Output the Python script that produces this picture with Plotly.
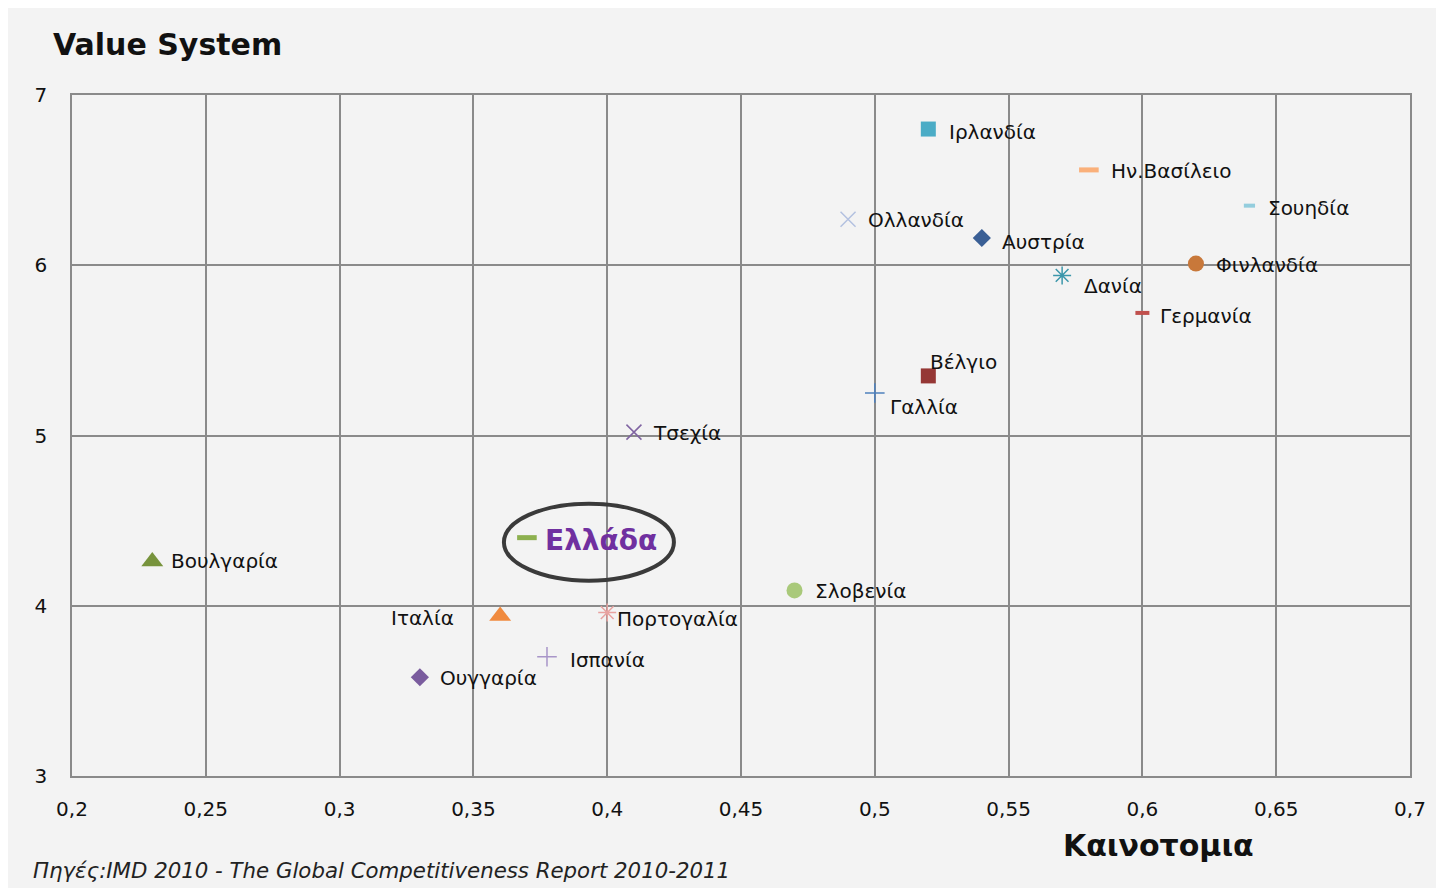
import plotly.graph_objects as go

# ---- data ----
countries = ["Ιρλανδία", "Ην.Βασίλειο", "Σουηδία", "Ολλανδία", "Αυστρία", "Φινλανδία",
             "Δανία", "Γερμανία", "Βέλγιο", "Γαλλία", "Τσεχία", "Ελλάδα", "Βουλγαρία",
             "Σλοβενία", "Ιταλία", "Πορτογαλία", "Ισπανία", "Ουγγαρία"]
innovation = [0.52, 0.58, 0.64, 0.49, 0.54, 0.62, 0.57, 0.60, 0.52, 0.50, 0.41, 0.37,
              0.23, 0.47, 0.36, 0.40, 0.3775, 0.33]
value_system = [6.80, 6.56, 6.35, 6.27, 6.16, 6.01, 5.94, 5.72, 5.35, 5.25, 5.02, 4.40,
                4.26, 4.09, 3.94, 3.96, 3.70, 3.58]
x_ticks = [0.2, 0.25, 0.3, 0.35, 0.4, 0.45, 0.5, 0.55, 0.6, 0.65, 0.7]
y_ticks = [3, 4, 5, 6, 7]

# ---- styles ----
symbols = ["square", "line-ew", "line-ew", "x-thin", "diamond", "circle",
           "asterisk", "line-ew", "square", "cross-thin", "x-thin", "line-ew", "triangle-up",
           "circle", "triangle-up", "asterisk", "cross-thin", "diamond"]
colors = ["#4bacc6", "#fab07a", "#93cddd", "#b3c1e0", "#3a5f95", "#c8783a",
          "#3c97ab", "#c0504d", "#953735", "#4f81bd", "#8064a2", "#8db04f", "#77933c",
          "#a9c97a", "#f08a3e", "#e8a2a0", "#a895c8", "#7a5c9e"]
sizes = [15, 14, 8, 15, 14, 16, 15, 10, 15, 14, 15, 14, 19, 16, 19, 15, 14, 14]
line_w = [0, 5, 4, 1.5, 0, 0, 1.5, 4, 0, 1.5, 1.5, 5, 0, 0, 0, 1.5, 1.5, 0]
# label offsets in pixels (dx, dy up positive) and anchors
lab_dx = [19, 20, 17, 18, 18, 18, 20, 16, 0, 13, 17, 16, 17, 18, -44, 8, 21, 18]
lab_dy = [-3, -1, -2, -1, -4, -1, -11, -3, 14, -14, -1, -3, 0, -1, -2, -6, -3, -1]
lab_anchor = ["left"] * 14 + ["right"] + ["left"] * 3

FONT = "DejaVu Sans"

fig = go.Figure()
for i, c in enumerate(countries):
    is_line = line_w[i] > 0
    fig.add_trace(go.Scatter(
        x=[innovation[i]], y=[value_system[i]], mode="markers", name=c,
        marker=dict(symbol=symbols[i], size=sizes[i], color=colors[i],
                    line=dict(color=colors[i], width=line_w[i] if is_line else 0)),
        showlegend=False, hoverinfo="text", text=c,
    ))
    greece = c == "Ελλάδα"
    fig.add_annotation(
        x=innovation[i], y=value_system[i], xref="x", yref="y",
        text=("<b>" + c + "</b>") if greece else c,
        showarrow=False, xanchor=lab_anchor[i], yanchor="middle",
        xshift=lab_dx[i], yshift=lab_dy[i],
        font=dict(family=FONT, size=28 if greece else 20,
                  color="#7030a0" if greece else "#111111"),
    )

gi = countries.index("Ελλάδα")
fig.add_shape(type="circle", xref="x", yref="y", xsizemode="pixel", ysizemode="pixel",
              xanchor=innovation[gi], yanchor=value_system[gi],
              x0=-23, x1=147, y0=-43, y1=34,
              line=dict(color="#3a3a3a", width=4), fillcolor="rgba(0,0,0,0)", layer="above")

grid = "#8a8a8a"
fig.update_xaxes(range=[0.2, 0.7], tickvals=x_ticks, showgrid=True, gridcolor=grid, gridwidth=1.5,
                 showline=True, linecolor=grid, linewidth=1.5, mirror=True, zeroline=False,
                 ticks="", ticklabelstandoff=14,
                 tickfont=dict(family=FONT, size=20, color="#111111"))
fig.update_yaxes(range=[3, 7], tickvals=y_ticks, showgrid=True, gridcolor=grid, gridwidth=1.5,
                 showline=True, linecolor=grid, linewidth=1.5, mirror=True, zeroline=False,
                 ticks="", ticklabelstandoff=19,
                 tickfont=dict(family=FONT, size=20, color="#111111"))

fig.add_annotation(text="<b>Value System</b>", xref="paper", yref="paper",
                   x=(50 - 71) / 1338, y=1 + (94 - 43) / 681, xanchor="left", yanchor="middle",
                   showarrow=False, font=dict(family=FONT, size=30, color="#111111"))
fig.add_annotation(text="<b>Καινοτομια</b>", xref="paper", yref="paper",
                   x=(1157 - 71) / 1338, y=-(845 - 775) / 681, xanchor="center", yanchor="middle",
                   showarrow=False, font=dict(family=FONT, size=30, color="#111111"))
fig.add_annotation(text="<i>Πηγές:IMD 2010 - The Global Competitiveness Report 2010-2011</i>",
                   xref="paper", yref="paper",
                   x=(30 - 71) / 1338, y=-(869 - 775) / 681, xanchor="left", yanchor="middle",
                   showarrow=False, font=dict(family=FONT, size=21.3, color="#222222"))

fig.update_layout(
    width=1437, height=881, autosize=False,
    margin=dict(l=64, r=35, t=87, b=113),
    paper_bgcolor="#f3f3f3", plot_bgcolor="#f3f3f3",
    separators=",.",
    font=dict(family=FONT),
)

fig.write_html("out.html")
